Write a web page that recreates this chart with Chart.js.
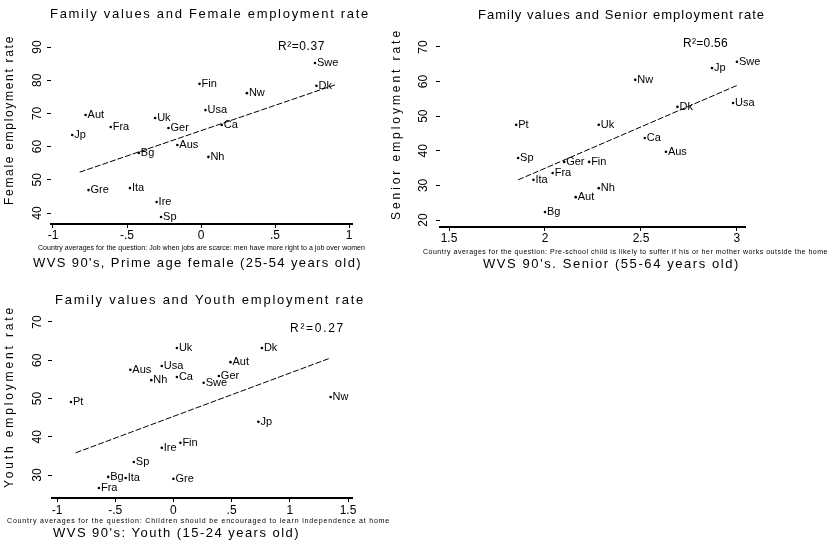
<!DOCTYPE html>
<html>
<head>
<meta charset="utf-8">
<script src="https://cdn.jsdelivr.net/npm/chart.js@4.4.1/dist/chart.umd.min.js"></script>
<style>
  html, body { margin: 0; padding: 0; background: #fff; width: 833px; height: 557px; overflow: hidden; }
  .p { position: absolute; }
</style>
</head>
<body>
<div class="p" style="left:0;top:0;"><canvas id="c1" width="400" height="278"></canvas></div>
<div class="p" style="left:383px;top:0;"><canvas id="c2" width="450" height="278"></canvas></div>
<div class="p" style="left:0;top:278px;"><canvas id="c3" width="400" height="279"></canvas></div>
<script>
// ---------- Panel 1: Female employment ----------
const femaleCountries = ["Swe","Dk","Fin","Nw","Usa","Uk","Aut","Fra","Jp","Ca","Ger","Aus","Nh","Bg","Gre","Ita","Ire","Sp"];
const femaleX = [0.77,0.78,-0.01,0.31,0.03,-0.31,-0.78,-0.61,-0.87,0.14,-0.22,-0.16,0.05,-0.42,-0.76,-0.48,-0.30,-0.27];
const femaleY = [85.2,78.3,78.9,76.1,71.0,68.6,69.5,65.9,63.5,66.5,65.6,60.5,56.9,58.1,46.9,47.5,43.3,38.8];
const femaleFitX = [-0.82, 0.905];
const femaleFitY = [52.3, 78.6];
const femaleXTicks = [-1, -0.5, 0, 0.5, 1];
const femaleXLabels = ["-1", "-.5", "0", ".5", "1"];
const femaleYTicks = [40, 50, 60, 70, 80, 90];

// ---------- Panel 2: Senior employment ----------
const seniorCountries = ["Swe","Jp","Nw","Dk","Usa","Pt","Uk","Ca","Aus","Sp","Ger","Fin","Ita","Fra","Aut","Nh","Bg"];
const seniorX = [3.0,2.87,2.47,2.69,2.98,1.85,2.28,2.52,2.63,1.86,2.10,2.23,1.94,2.04,2.16,2.28,2.0];
const seniorY = [65.7,63.9,60.5,52.7,53.8,47.5,47.5,43.7,39.7,37.9,36.8,36.8,31.6,33.6,26.6,29.2,22.3];
const seniorFitX = [1.86, 3.005];
const seniorFitY = [31.6, 59.0];
const seniorXTicks = [1.5, 2, 2.5, 3];
const seniorXLabels = ["1.5", "2", "2.5", "3"];
const seniorYTicks = [20, 30, 40, 50, 60, 70];

// ---------- Panel 3: Youth employment ----------
const youthCountries = ["Uk","Dk","Aut","Aus","Usa","Nh","Ca","Swe","Ger","Pt","Nw","Jp","Ire","Fin","Sp","Bg","Ita","Fra","Gre"];
const youthX = [0.03,0.76,0.49,-0.37,-0.10,-0.19,0.03,0.26,0.39,-0.88,1.35,0.73,-0.10,0.06,-0.34,-0.56,-0.41,-0.64,0.0];
const youthY = [63.2,63.2,59.5,57.5,58.5,54.8,55.6,54.1,55.9,49.1,50.4,43.9,37.1,38.4,33.4,29.5,29.2,26.6,29.0];
const youthFitX = [-0.84, 1.35];
const youthFitY = [35.8, 60.6];
const youthXTicks = [-1, -0.5, 0, 0.5, 1, 1.5];
const youthXLabels = ["-1", "-.5", "0", ".5", "1", "1.5"];
const youthYTicks = [30, 40, 50, 60, 70];

const FONT = '"Liberation Sans", Arial, Helvetica, sans-serif';

function fitText(ctx, text, x1, x2, y, size, rotate) {
  ctx.save();
  ctx.font = size + 'px ' + FONT;
  ctx.fillStyle = '#000';
  if ('letterSpacing' in ctx) ctx.letterSpacing = '0px';
  const w = ctx.measureText(text).width;
  const target = x2 - x1;
  let ls = (target - w) / Math.max(1, text.length);
  if (ls < -0.6) ls = -0.6;
  if ('letterSpacing' in ctx) ctx.letterSpacing = ls + 'px';
  ctx.textBaseline = 'middle';
  if (rotate) {
    ctx.translate(y, (x1 + x2) / 2);
    ctx.rotate(-Math.PI / 2);
    ctx.textAlign = 'center';
    ctx.fillText(text, 0, 0);
  } else {
    ctx.textAlign = 'left';
    ctx.fillText(text, x1, y);
  }
  ctx.restore();
}

const textPlugin = {
  id: 'texts',
  afterDraw(chart, args, opts) {
    const ctx = chart.ctx;
    const meta = chart.getDatasetMeta(0);
    ctx.save();
    ctx.font = '11px ' + FONT;
    ctx.fillStyle = '#000';
    ctx.textBaseline = 'middle';
    ctx.textAlign = 'left';
    meta.data.forEach((pt, i) => {
      ctx.fillText(opts.names[i], pt.x + 2, pt.y);
    });
    ctx.restore();
    (opts.items || []).forEach(t => fitText(ctx, t[0], t[1], t[2], t[3], t[4], t[5]));
  }
};

function makeChart(id, names, xs, ys, fx, fy, xt, xl, yt, cfg) {
  const pts = xs.map((x, i) => ({ x: x, y: ys[i] }));
  const fit = fx.map((x, i) => ({ x: x, y: fy[i] }));
  return new Chart(document.getElementById(id), {
    type: 'scatter',
    data: {
      datasets: [
        { data: pts, pointRadius: 1.3, pointBackgroundColor: '#000', pointBorderWidth: 0, clip: false },
        { data: fit, showLine: true, pointRadius: 0, borderColor: '#000', borderWidth: 1, borderDash: [6, 2], clip: false }
      ]
    },
    options: {
      responsive: false,
      animation: false,
      devicePixelRatio: 1,
      layout: { padding: cfg.padding },
      plugins: {
        legend: { display: false },
        tooltip: { enabled: false },
        texts: { names: names, items: cfg.items }
      },
      scales: {
        x: {
          type: 'linear', min: cfg.xmin, max: cfg.xmax,
          afterBuildTicks: s => { s.ticks = xt.map(v => ({ value: v })); },
          afterFit: s => { s.height = cfg.xh; },
          ticks: { callback: (v, i) => xl[i], font: { family: FONT, size: 12 }, color: '#000', padding: cfg.xpad, maxRotation: 0, minRotation: 0, autoSkip: false },
          grid: { drawOnChartArea: false, drawTicks: true, tickLength: 4, color: '#000', lineWidth: 1 },
          border: { display: true, color: '#000', width: 2 }
        },
        y: {
          type: 'linear', min: cfg.ymin, max: cfg.ymax,
          afterBuildTicks: s => { s.ticks = yt.map(v => ({ value: v })); },
          afterFit: s => { s.width = cfg.yw; },
          ticks: { font: { family: FONT, size: 12 }, color: '#000', padding: cfg.ypad, minRotation: 90, maxRotation: 90, crossAlign: 'center', autoSkip: false },
          grid: { drawOnChartArea: false, drawTicks: true, tickLength: 4, color: '#000', lineWidth: 1 },
          border: { display: false }
        }
      }
    },
    plugins: [textPlugin]
  });
}

makeChart('c1', femaleCountries, femaleX, femaleY, femaleFitX, femaleFitY, femaleXTicks, femaleXLabels, femaleYTicks, {
  padding: { left: 0, top: 40, right: 48, bottom: 0 },
  xmin: -1.0135, xmax: 1.02, ymin: 36.69, ymax: 92.11,
  xh: 54, yw: 51, xpad: 0, ypad: 3,
  items: [
    ["Family values and Female employment rate", 50, 370, 14, 13, false],
    ["Female employment rate", 35, 205, 10, 12, true],
    ["R\u00b2=0.37", 278, 325, 47, 12, false],
    ["Country averages for the question: Job when jobs are scarce: men have more right to a job over women", 38, 365, 248, 7, false],
    ["WVS 90's, Prime age female (25-54 years old)", 33, 362, 263, 13, false]
  ]
});

makeChart('c2', seniorCountries, seniorX, seniorY, seniorFitX, seniorFitY, seniorXTicks, seniorXLabels, seniorYTicks, {
  padding: { left: 0, top: 40, right: 88, bottom: 0 },
  xmin: 1.453, xmax: 3.042, ymin: 17.98, ymax: 72.02,
  xh: 51, yw: 57, xpad: 0, ypad: 6,
  items: [
    ["Family values and Senior employment rate", 95, 382, 15, 13, false],
    ["Senior employment rate", 28, 220, 14, 12, true],
    ["R\u00b2=0.56", 300, 345, 44, 12, false],
    ["Country averages for the question: Pre-school child is likely to suffer if his or her mother works outside the home", 40, 445, 252, 7, false],
    ["WVS 90's. Senior (55-64 years old)", 100, 357, 264, 13, false]
  ]
});

makeChart('c3', youthCountries, youthX, youthY, youthFitX, youthFitY, youthXTicks, youthXLabels, youthYTicks, {
  padding: { left: 0, top: 34, right: 48, bottom: 0 },
  xmin: -1.043, xmax: 1.534, ymin: 23.99, ymax: 72.61,
  xh: 59, yw: 52, xpad: 1, ypad: 4,
  items: [
    ["Family values and Youth employment rate", 55, 365, 22, 13, false],
    ["Youth employment rate", 27, 210, 10, 12, true],
    ["R\u00b2=0.27", 290, 345, 51, 12, false],
    ["Country averages for the question: Children should be encouraged to learn independence at home", 7, 390, 243, 7, false],
    ["WVS 90's: Youth (15-24 years old)", 53, 300, 255, 13, false]
  ]
});
</script>
</body>
</html>
